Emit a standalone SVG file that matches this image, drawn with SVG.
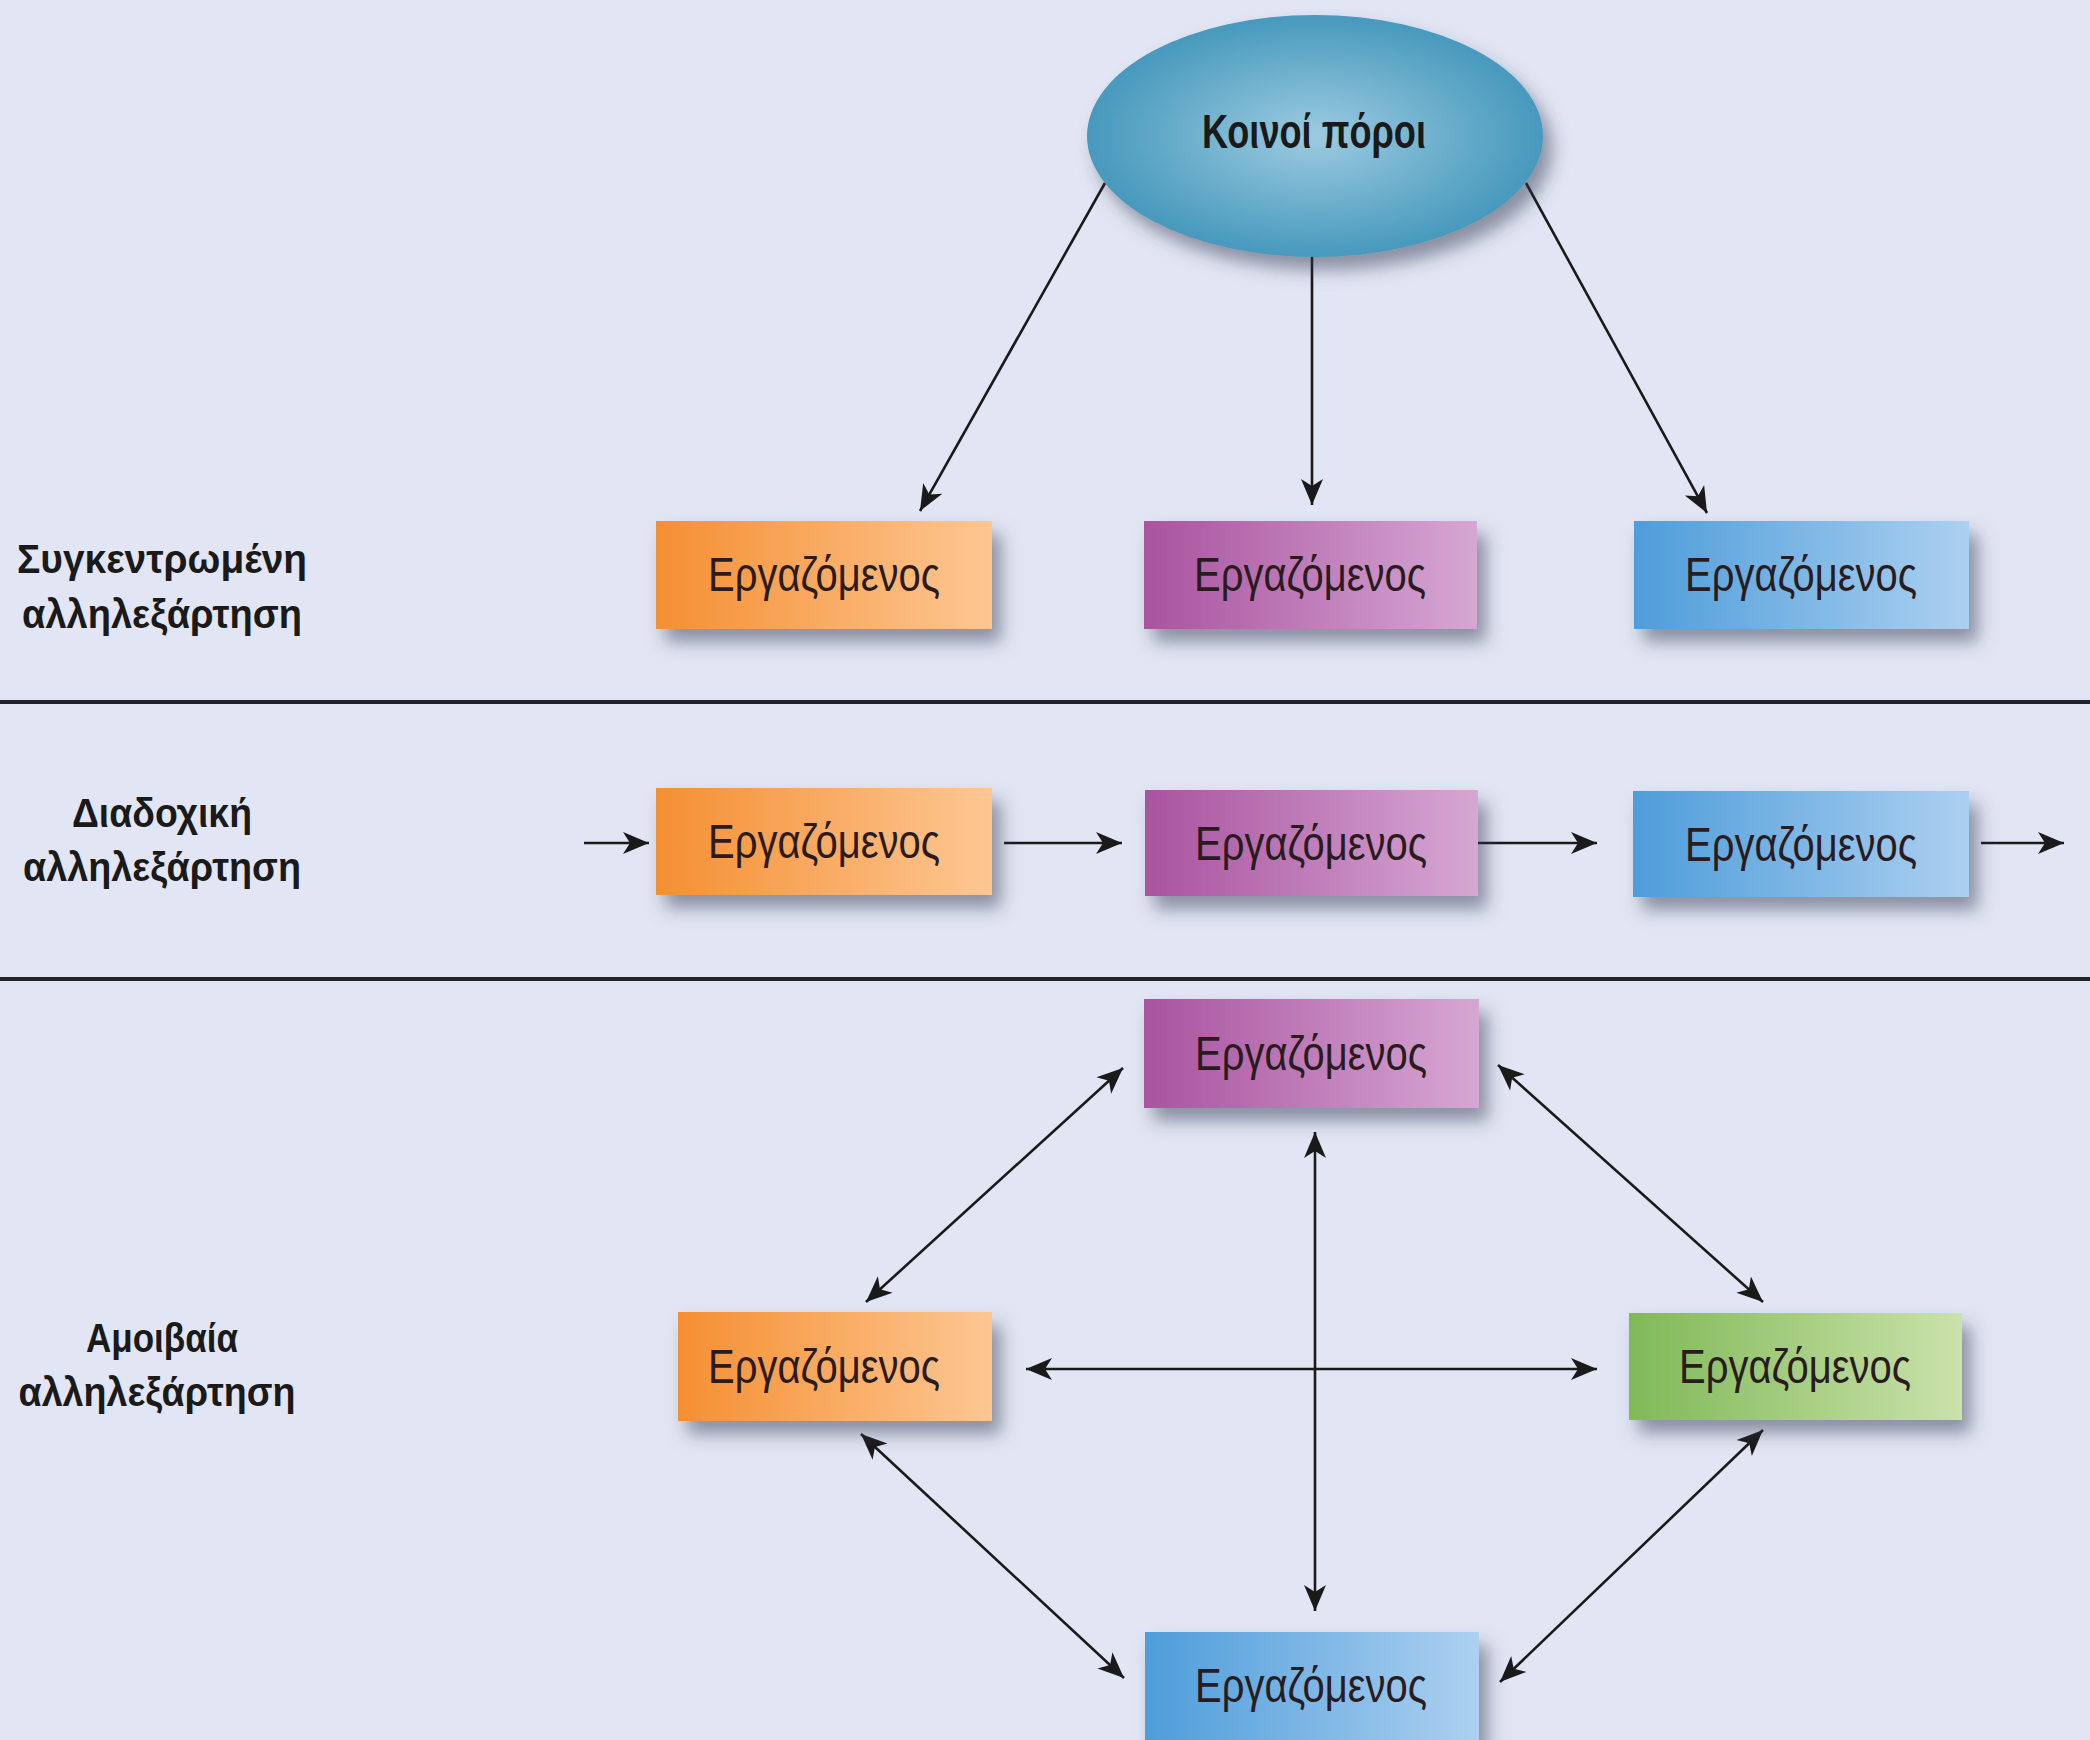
<svg xmlns="http://www.w3.org/2000/svg" width="2090" height="1740" viewBox="0 0 2090 1740">
<style>
.lbl{font-family:"Liberation Sans",Arial,sans-serif;font-weight:bold;font-size:41px;fill:#1a1a1a;text-anchor:middle}
.wt{font-family:"Liberation Sans",Arial,sans-serif;font-size:48px;fill:#2a1c1e;text-anchor:middle}
.hd{font-family:"Liberation Sans",Arial,sans-serif;font-weight:bold;font-size:48px;fill:#1a1a1a;text-anchor:middle}
.ar{stroke:#1a1a1a;stroke-width:2.6;fill:none;marker-end:url(#ah)}
.dar{stroke:#1a1a1a;stroke-width:2.6;fill:none;marker-end:url(#ah);marker-start:url(#ah)}
.div{stroke:#232328;stroke-width:4}
</style>
<defs>
<linearGradient id="gOr" x1="0" y1="0" x2="1" y2="0"><stop offset="0" stop-color="#f58f32"/><stop offset="1" stop-color="#fdc792"/></linearGradient>
<linearGradient id="gPu" x1="0" y1="0" x2="1" y2="0"><stop offset="0" stop-color="#a9539f"/><stop offset="1" stop-color="#d6a7d3"/></linearGradient>
<linearGradient id="gBl" x1="0" y1="0" x2="1" y2="0"><stop offset="0" stop-color="#4e9dda"/><stop offset="1" stop-color="#acd0f0"/></linearGradient>
<linearGradient id="gGr" x1="0" y1="0" x2="1" y2="0"><stop offset="0" stop-color="#80b957"/><stop offset="1" stop-color="#cae2ab"/></linearGradient>
<radialGradient id="gEl" cx="0.5" cy="0.5" r="0.5"><stop offset="0" stop-color="#9ccbe0"/><stop offset="1" stop-color="#4799bd"/></radialGradient>
<filter id="sh" x="-20%" y="-30%" width="150%" height="190%"><feDropShadow dx="9" dy="13" stdDeviation="9" flood-color="#2e3550" flood-opacity="0.5"/></filter>
<marker id="ah" markerUnits="userSpaceOnUse" markerWidth="32" markerHeight="26" viewBox="-2 -13 32 26" refX="26" refY="0" orient="auto-start-reverse"><path d="M0,-11 L26,0 L0,11 L7,0 Z" fill="#1a1a1a"/></marker>
</defs>
<rect width="2090" height="1740" fill="#e2e6f4"/>
<line class="div" x1="0" y1="702" x2="2090" y2="702"/>
<line class="div" x1="0" y1="979" x2="2090" y2="979"/>

<g id="labels">
<text class="lbl" x="162" y="573" textLength="290" lengthAdjust="spacingAndGlyphs">Συγκεντρωμένη</text>
<text class="lbl" x="162" y="628" textLength="280" lengthAdjust="spacingAndGlyphs">αλληλεξάρτηση</text>
<text class="lbl" x="162" y="827" textLength="180" lengthAdjust="spacingAndGlyphs">Διαδοχική</text>
<text class="lbl" x="162" y="881" textLength="278" lengthAdjust="spacingAndGlyphs">αλληλεξάρτηση</text>
<text class="lbl" x="162" y="1352" textLength="152" lengthAdjust="spacingAndGlyphs">Αμοιβαία</text>
<text class="lbl" x="157" y="1406" textLength="277" lengthAdjust="spacingAndGlyphs">αλληλεξάρτηση</text>
</g>

<g id="connectors">
<line class="ar" x1="1105" y1="183" x2="920" y2="511"/>
<line class="ar" x1="1312" y1="256" x2="1312" y2="505"/>
<line class="ar" x1="1526" y1="183" x2="1707" y2="513"/>
<line class="ar" x1="584" y1="843" x2="649" y2="843"/>
<line class="ar" x1="1004" y1="843" x2="1122" y2="843"/>
<line class="ar" x1="1477" y1="843" x2="1597" y2="843"/>
<line class="ar" x1="1981" y1="843" x2="2064" y2="843"/>
<line class="dar" x1="866" y1="1302" x2="1123" y2="1068"/>
<line class="dar" x1="1498" y1="1065" x2="1763" y2="1302"/>
<line class="dar" x1="1315" y1="1132" x2="1315" y2="1611"/>
<line class="dar" x1="1026" y1="1369" x2="1597" y2="1369"/>
<line class="dar" x1="861" y1="1434" x2="1124" y2="1678"/>
<line class="dar" x1="1763" y1="1430" x2="1500" y2="1682"/>
</g>

<g id="resources">
<ellipse cx="1315" cy="136" rx="228" ry="121" fill="url(#gEl)" filter="url(#sh)"/>
<text class="hd" x="1314" y="148" textLength="224" lengthAdjust="spacingAndGlyphs">Κοινοί πόροι</text>
</g>

<g id="pooled-1"><rect x="656" y="521" width="336" height="108" fill="url(#gOr)" filter="url(#sh)"/><text class="wt" x="824" y="591" textLength="232" lengthAdjust="spacingAndGlyphs">Εργαζόμενος</text></g>
<g id="pooled-2"><rect x="1144" y="521" width="333" height="108" fill="url(#gPu)" filter="url(#sh)"/><text class="wt" x="1310" y="591" textLength="232" lengthAdjust="spacingAndGlyphs">Εργαζόμενος</text></g>
<g id="pooled-3"><rect x="1634" y="521" width="335" height="108" fill="url(#gBl)" filter="url(#sh)"/><text class="wt" x="1801" y="591" textLength="232" lengthAdjust="spacingAndGlyphs">Εργαζόμενος</text></g>

<g id="seq-1"><rect x="656" y="788" width="336" height="107" fill="url(#gOr)" filter="url(#sh)"/><text class="wt" x="824" y="858" textLength="232" lengthAdjust="spacingAndGlyphs">Εργαζόμενος</text></g>
<g id="seq-2"><rect x="1145" y="790" width="333" height="106" fill="url(#gPu)" filter="url(#sh)"/><text class="wt" x="1311" y="860" textLength="232" lengthAdjust="spacingAndGlyphs">Εργαζόμενος</text></g>
<g id="seq-3"><rect x="1633" y="791" width="336" height="106" fill="url(#gBl)" filter="url(#sh)"/><text class="wt" x="1801" y="861" textLength="232" lengthAdjust="spacingAndGlyphs">Εργαζόμενος</text></g>

<g id="rec-top"><rect x="1144" y="999" width="335" height="109" fill="url(#gPu)" filter="url(#sh)"/><text class="wt" x="1311" y="1070" textLength="232" lengthAdjust="spacingAndGlyphs">Εργαζόμενος</text></g>
<g id="rec-left"><rect x="678" y="1312" width="314" height="109" fill="url(#gOr)" filter="url(#sh)"/><text class="wt" x="824" y="1383" textLength="232" lengthAdjust="spacingAndGlyphs">Εργαζόμενος</text></g>
<g id="rec-right"><rect x="1629" y="1313" width="333" height="107" fill="url(#gGr)" filter="url(#sh)"/><text class="wt" x="1795" y="1383" textLength="232" lengthAdjust="spacingAndGlyphs">Εργαζόμενος</text></g>
<g id="rec-bottom"><rect x="1145" y="1632" width="334" height="112" fill="url(#gBl)" filter="url(#sh)"/><text class="wt" x="1311" y="1702" textLength="232" lengthAdjust="spacingAndGlyphs">Εργαζόμενος</text></g>
</svg>
